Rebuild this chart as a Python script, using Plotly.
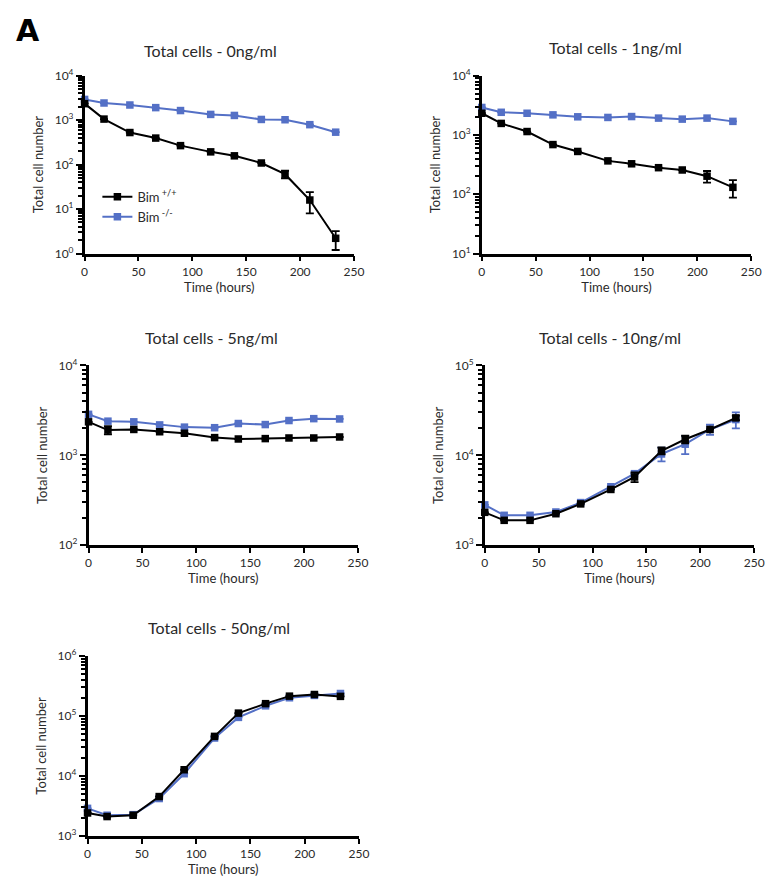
import plotly.graph_objects as go

W, H = 774, 890

time_h = [0, 18, 42, 66, 89, 117, 139, 164, 186, 209, 233]

titles = ["Total cells - 0ng/ml", "Total cells - 1ng/ml", "Total cells - 5ng/ml",
          "Total cells - 10ng/ml", "Total cells - 50ng/ml"]

# Bim +/+ (black)
wt_0 = [2360, 1060, 528, 396, 268, 194, 158, 109, 61, 16, 2.2]
wt_0_err = [0, 0, 0, 0, 0, 0, 0, 0, 12, 8, 1.0]
wt_1 = [2330, 1570, 1145, 690, 528, 366, 327, 281, 257, 202, 131]
wt_1_err = [0, 0, 0, 0, 0, 0, 0, 0, 0, 45, 43]
wt_5 = [2360, 1910, 1940, 1830, 1760, 1575, 1520, 1535, 1560, 1560, 1600]
wt_5_err = [0, 200, 0, 0, 0, 0, 0, 0, 0, 0, 0]
wt_10 = [2320, 1890, 1890, 2240, 2880, 4170, 5740, 11250, 15100, 19400, 26100]
wt_10_err = [0, 0, 0, 0, 0, 0, 700, 1000, 1500, 0, 1500]
wt_50 = [2410, 2100, 2210, 4530, 12700, 45800, 112000, 161000, 215000, 229000, 213000]
wt_50_err = [0, 0, 0, 0, 0, 0, 0, 0, 0, 0, 0]

# Bim -/- (blue)
ko_0 = [2940, 2440, 2200, 1920, 1650, 1350, 1280, 1040, 1025, 794, 538]
ko_0_err = [0] * 11
ko_1 = [2920, 2420, 2330, 2190, 2030, 1980, 2050, 1930, 1855, 1930, 1700]
ko_1_err = [0] * 11
ko_5 = [2860, 2400, 2360, 2180, 2060, 2030, 2260, 2200, 2440, 2560, 2540]
ko_5_err = [0] * 11
ko_10 = [2810, 2150, 2150, 2340, 2980, 4470, 6250, 10350, 13300, 19400, 25000]
ko_10_err = [0, 0, 0, 0, 0, 0, 0, 1800, 3000, 2500, 5000]
ko_50 = [2880, 2210, 2260, 4200, 10900, 43000, 95000, 148000, 202000, 221000, 238000]
ko_50_err = [0] * 11

wt_series = [wt_0, wt_1, wt_5, wt_10, wt_50]
wt_errs = [wt_0_err, wt_1_err, wt_5_err, wt_10_err, wt_50_err]
ko_series = [ko_0, ko_1, ko_5, ko_10, ko_50]
ko_errs = [ko_0_err, ko_1_err, ko_5_err, ko_10_err, ko_50_err]

y_decades = [(0, 4), (1, 4), (2, 4), (3, 5), (3, 6)]
x_ticks = [0, 50, 100, 150, 200, 250]

# panel boxes in pixels: x0, x1, y_top, y_bottom
boxes = [(83, 357, 68, 249), (487, 761, 68, 249), (87, 361, 363, 546),
         (490, 764, 363, 546), (86, 362, 659, 842)]
title_pos = [(211, 42), (623, 39), (212, 335), (617, 335), (220, 630)]

FONT = "Lato, 'Open Sans', sans-serif"
BLACK = "#000000"
BLUE = "#5470c6"
TXT = "#2a2a2a"

fig = go.Figure()
layout = {}

for i in range(5):
    sfx = "" if i == 0 else str(i + 1)
    xa, ya = "x" + sfx, "y" + sfx
    x0, x1, yt, yb = boxes[i]
    d0, d1 = y_decades[i]
    for vals, errs, col, name in [(ko_series[i], ko_errs[i], BLUE, "Bim<sup> -/-</sup>"),
                                  (wt_series[i], wt_errs[i], BLACK, "Bim<sup> +/+</sup>")]:
        fig.add_trace(go.Scatter(
            x=time_h, y=vals, xaxis=xa, yaxis=ya, mode="lines+markers",
            name=name, showlegend=(i == 0), legendrank=(2 if col == BLUE else 1),
            line=dict(color=col, width=2),
            marker=dict(symbol="square", size=7.5, color=col),
            error_y=dict(type="data", array=errs, visible=True, color=col,
                         thickness=1.8, width=4),
            cliponaxis=False,
        ))
    majors = [10 ** k for k in range(d0, d1 + 1)]
    minors = [m * 10 ** k for k in range(d0, d1) for m in range(2, 10)]
    layout["xaxis" + sfx] = dict(
        domain=[x0 / W, x1 / W], anchor=ya, range=[0, 250],
        tickvals=x_ticks, ticks="outside", ticklen=5, tickwidth=2,
        tickcolor=BLACK, showline=True, linecolor=BLACK, linewidth=2.5,
        showgrid=False, zeroline=False,
        tickfont=dict(family=FONT, size=12, color=TXT),
        title=dict(text="Time (hours)", font=dict(family=FONT, size=13, color=TXT),
                   standoff=4),
    )
    layout["yaxis" + sfx] = dict(
        domain=[1 - yb / H, 1 - yt / H], anchor=xa, type="log",
        range=[d0, d1],
        tickvals=majors, ticktext=["10<sup>%d</sup>" % k for k in range(d0, d1 + 1)],
        ticks="outside", ticklen=6, tickwidth=2, tickcolor=BLACK,
        minor=dict(tickvals=minors, ticks="outside", ticklen=4, tickwidth=1.5,
                   tickcolor=BLACK, showgrid=False),
        showline=True, linecolor=BLACK, linewidth=2.5, showgrid=False, zeroline=False,
        tickfont=dict(family=FONT, size=12, color=TXT),
        title=dict(text="Total cell number", font=dict(family=FONT, size=13, color=TXT),
                   standoff=9),
    )

annotations = []
for i in range(5):
    cx, cy = title_pos[i]
    annotations.append(dict(text=titles[i], x=cx / W, y=1 - cy / H, xref="paper",
                            yref="paper", showarrow=False, xanchor="center",
                            yanchor="middle",
                            font=dict(family=FONT, size=16, color=TXT)))
annotations.append(dict(text="<b>A</b>", x=11 / W, y=1 - 22 / H, xref="paper",
                        yref="paper", showarrow=False, xanchor="left",
                        yanchor="middle",
                        font=dict(family="'DejaVu Sans', Arial", size=30, color=BLACK)))

fig.update_layout(
    width=W, height=H, margin=dict(l=0, r=0, t=0, b=0),
    paper_bgcolor="white", plot_bgcolor="white",
    showlegend=True,
    legend=dict(x=96 / W, y=1 - 176 / H, xanchor="left", yanchor="top",
                bgcolor="rgba(0,0,0,0)", font=dict(family=FONT, size=13, color=TXT),
                tracegroupgap=4, itemwidth=30),
    annotations=annotations,
    **layout,
)

fig.write_html("out.html")
